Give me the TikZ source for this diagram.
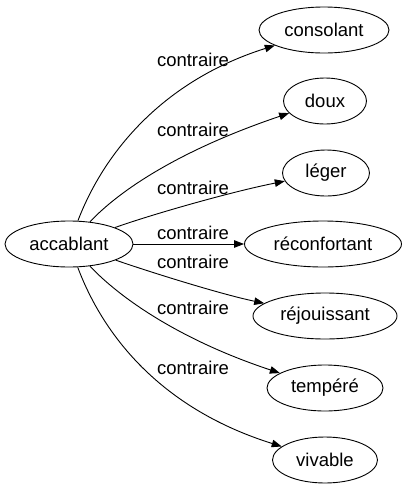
\documentclass[tikz,border=0pt]{standalone}
\usepackage{fontspec}
\setmainfont{Liberation Sans}
\usetikzlibrary{shapes.geometric,arrows.meta}
\tikzset{
  wnode/.style={ellipse, draw, line width=0.9pt, inner sep=0pt, minimum height=46pt, font=\fontsize{18.5pt}{20pt}\selectfont},
  wedge/.style={draw, line width=0.9pt, -{Triangle[length=10pt,width=7.5pt]}},
  wlabel/.style={inner sep=0pt, font=\fontsize{18.5pt}{20pt}\selectfont}
}
\begin{document}
\begin{tikzpicture}[x=1pt,y=-1pt]
\useasboundingbox (0,0) rectangle (409,491);
\node[wnode, minimum width=128pt] (acc) at (69,244) {accablant};
\node[wnode, minimum width=130pt] (con) at (324,30) {consolant};
\node[wnode, minimum width=83pt] (dou) at (325,101) {doux};
\node[wnode, minimum width=87pt] (leg) at (326,173) {léger};
\node[wnode, minimum width=157pt] (rec) at (323,244) {réconfortant};
\node[wnode, minimum width=144pt] (rej) at (325,316) {réjouissant};
\node[wnode, minimum width=116pt] (tem) at (325,388) {tempéré};
\node[wnode, minimum width=105pt] (viv) at (325,460) {vivable};
\draw[wedge] (acc) .. controls (105,150) and (165,80) .. (con);
\draw[wedge] (acc) .. controls (120,190) and (180,150) .. (dou);
\draw[wedge] (acc) .. controls (150,215) and (230,192) .. (leg);
\draw[wedge] (acc) -- (rec);
\draw[wedge] (acc) .. controls (150,272) and (220,294) .. (rej);
\draw[wedge] (acc) .. controls (120,298) and (180,340) .. (tem);
\draw[wedge] (acc) .. controls (105,340) and (165,410) .. (viv);
\node[wlabel] (l1) at (193,60) {contraire};
\node[wlabel] (l2) at (193,130) {contraire};
\node[wlabel] (l3) at (193,188) {contraire};
\node[wlabel] (l4) at (193,233) {contraire};
\node[wlabel] (l5) at (193,262) {contraire};
\node[wlabel] (l6) at (193,308) {contraire};
\node[wlabel] (l7) at (193,368) {contraire};
\end{tikzpicture}
\end{document}
